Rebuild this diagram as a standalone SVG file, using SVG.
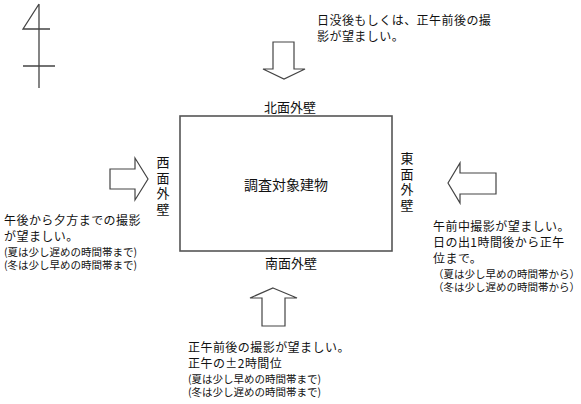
<svg xmlns="http://www.w3.org/2000/svg" width="581" height="404" viewBox="0 0 581 404">
<style>
text{font-family:"Noto Sans CJK JP","Liberation Sans",sans-serif;fill:#111}
.m{font-size:12px;letter-spacing:0.45px}
.s{font-size:10.5px}
.l{font-size:13px}
.v{font-size:13px;writing-mode:vertical-rl;letter-spacing:2.5px}
.ar{fill:#fff;stroke:#444;stroke-width:1.2;stroke-linejoin:miter}
</style>
<rect width="581" height="404" fill="#fff"/>
<g id="north-symbol" fill="none" stroke="#444" stroke-width="1.3">
<path d="M39 4 L39 88 M39 4 L23 29 L50 29 M23 66 L55 66"/>
</g>
<g id="building">
<rect x="180" y="116" width="212" height="135" fill="#fff" stroke="#555" stroke-width="1.6"/>
<text x="286" y="190" font-size="14" text-anchor="middle">調査対象建物</text>
</g>
<g id="north-wall"><text class="l" x="290" y="112" text-anchor="middle">北面外壁</text></g>
<g id="south-wall"><text class="l" x="291" y="268" text-anchor="middle">南面外壁</text></g>
<g id="west-wall"><text class="v" x="163" y="156">西面外壁</text></g>
<g id="east-wall"><text class="v" x="407" y="152">東面外壁</text></g>
<g id="arrows">
<polygon class="ar" points="273,42 294,42 294,69 305,69 284,79 263,69 273,69"/>
<polygon class="ar" points="273,288 297,298 285,298 285,326 262,326 262,298 250,298"/>
<polygon class="ar" points="110,169 135,169 135,158 148,179 135,200 135,189 110,189"/>
<polygon class="ar" points="448,183 460,163 460,173 496,173 496,194 460,194 460,203"/>
</g>
<g id="north-note">
<text class="m" x="317" y="25">日没後もしくは、正午前後の撮<tspan x="317" dy="16">影が望ましい。</tspan></text>
</g>
<g id="west-note">
<text x="4" y="225"><tspan class="m">午後から夕方までの撮影</tspan><tspan class="m" x="4" dy="16">が望ましい。</tspan><tspan class="s" x="4" dy="14.5">(夏は少し遅めの時間帯まで)</tspan><tspan class="s" x="4" dy="13.5">(冬は少し早めの時間帯まで)</tspan></text>
</g>
<g id="east-note">
<text x="433" y="231"><tspan class="m">午前中撮影が望ましい。</tspan><tspan class="m" x="433" dy="16">日の出1時間後から正午</tspan><tspan class="m" x="433" dy="16">位まで。</tspan><tspan class="s" x="433" dy="14.5">（夏は少し早めの時間帯から）</tspan><tspan class="s" x="433" dy="13.5">（冬は少し遅めの時間帯から）</tspan></text>
</g>
<g id="south-note">
<text x="188" y="352"><tspan class="m">正午前後の撮影が望ましい。</tspan><tspan class="m" x="188" dy="16">正午の±2時間位</tspan><tspan class="s" x="188" dy="14.5">(夏は少し早めの時間帯まで)</tspan><tspan class="s" x="188" dy="13.5">(冬は少し遅めの時間帯まで)</tspan></text>
</g>
</svg>
